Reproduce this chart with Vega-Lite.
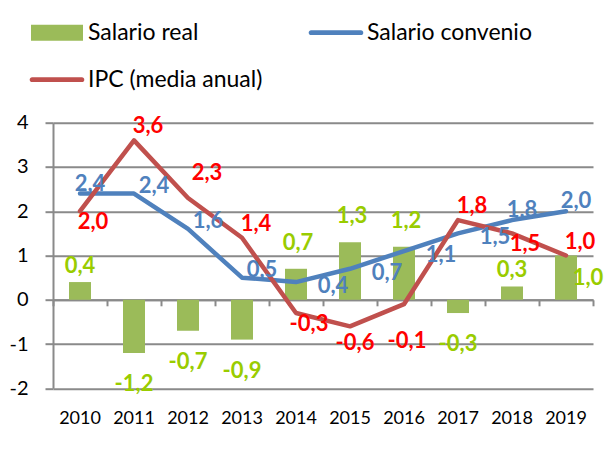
{
  "$schema": "https://vega.github.io/schema/vega-lite/v6.json",
  "width": 540,
  "height": 265.6,
  "autosize": {"type": "none"},
  "padding": {"left": 53, "top": 122.7, "right": 17, "bottom": 74.7},
  "background": "white",
  "config": {
    "view": {"stroke": null},
    "locale": {"number": {"decimal": ",", "thousands": ".", "grouping": [3], "currency": ["", " €"], "minus": "-"}},
    "text": {"font": "Lato", "fontWeight": "bold", "fontSize": 22, "baseline": "middle", "align": "center"}
  },
  "data": {
    "values": [
      {"year": "2010", "serie": "Salario real", "value": 0.4},
      {"year": "2011", "serie": "Salario real", "value": -1.2},
      {"year": "2012", "serie": "Salario real", "value": -0.7},
      {"year": "2013", "serie": "Salario real", "value": -0.9},
      {"year": "2014", "serie": "Salario real", "value": 0.7},
      {"year": "2015", "serie": "Salario real", "value": 1.3},
      {"year": "2016", "serie": "Salario real", "value": 1.2},
      {"year": "2017", "serie": "Salario real", "value": -0.3},
      {"year": "2018", "serie": "Salario real", "value": 0.3},
      {"year": "2019", "serie": "Salario real", "value": 1.0},
      {"year": "2010", "serie": "Salario convenio", "value": 2.4},
      {"year": "2011", "serie": "Salario convenio", "value": 2.4},
      {"year": "2012", "serie": "Salario convenio", "value": 1.6},
      {"year": "2013", "serie": "Salario convenio", "value": 0.5},
      {"year": "2014", "serie": "Salario convenio", "value": 0.4},
      {"year": "2015", "serie": "Salario convenio", "value": 0.7},
      {"year": "2016", "serie": "Salario convenio", "value": 1.1},
      {"year": "2017", "serie": "Salario convenio", "value": 1.5},
      {"year": "2018", "serie": "Salario convenio", "value": 1.8},
      {"year": "2019", "serie": "Salario convenio", "value": 2.0},
      {"year": "2010", "serie": "IPC (media anual)", "value": 2.0},
      {"year": "2011", "serie": "IPC (media anual)", "value": 3.6},
      {"year": "2012", "serie": "IPC (media anual)", "value": 2.3},
      {"year": "2013", "serie": "IPC (media anual)", "value": 1.4},
      {"year": "2014", "serie": "IPC (media anual)", "value": -0.3},
      {"year": "2015", "serie": "IPC (media anual)", "value": -0.6},
      {"year": "2016", "serie": "IPC (media anual)", "value": -0.1},
      {"year": "2017", "serie": "IPC (media anual)", "value": 1.8},
      {"year": "2018", "serie": "IPC (media anual)", "value": 1.5},
      {"year": "2019", "serie": "IPC (media anual)", "value": 1.0}
    ]
  },
  "resolve": {"axis": {"x": "independent"}},
  "layer": [
    {
      "transform": [{"filter": "datum.serie === 'Salario real'"}],
      "mark": {"type": "bar", "width": 22},
      "encoding": {
        "x": {"field": "year", "type": "ordinal", "scale": {"type": "band", "paddingInner": 0, "paddingOuter": 0},
          "axis": {"orient": "bottom", "offset": -88.5, "labels": false, "ticks": true, "tickBand": "extent", "tickSize": 6, "tickColor": "#8a8a8a", "tickWidth": 2, "domain": true, "domainColor": "#8a8a8a", "domainWidth": 2, "title": null, "grid": false}},
        "y": {"field": "value", "type": "quantitative", "scale": {"domain": [-2, 4], "nice": false, "zero": false},
          "axis": {"values": [-2, -1, 0, 1, 2, 3, 4], "format": "d", "grid": true, "gridColor": "#8a8a8a", "gridWidth": 2, "domain": true, "domainColor": "#8a8a8a", "domainWidth": 2, "ticks": true, "tickSize": 8, "tickColor": "#8a8a8a", "tickWidth": 2, "labelPadding": 17, "labelFontSize": 20, "labelFont": "Lato", "labelColor": "black", "title": null}},
        "color": {"field": "serie", "type": "nominal",
          "scale": {"domain": ["Salario real", "IPC (media anual)", "Salario convenio"], "range": ["#9BBB59", "#C0504D", "#4F81BD"]},
          "legend": {"orient": "none", "legendX": -22, "legendY": -116, "columns": 2, "columnPadding": 45, "rowPadding": 9, "padding": 0, "title": null,
            "labelFontSize": 23, "labelFont": "Lato", "labelColor": "black", "labelOffset": 5, "labelLimit": 400, "symbolSize": 2704,
            "encode": {"symbols": {"update": {
              "shape": {"signal": "datum.value === 'Salario real' ? 'M-1,-0.31H1V0.31H-1Z' : 'M-0.96,-0.09H0.96A0.09,0.09 0 0 1 0.96,0.09H-0.96A0.09,0.09 0 0 1 -0.96,-0.09Z'"},
              "fill": {"signal": "scale('color', datum.value)"},
              "stroke": {"value": "transparent"},
              "strokeWidth": {"value": 0},
              "size": {"value": 2704},
              "opacity": {"value": 1}
            }}}}
        }
      }
    },
    {
      "transform": [{"filter": "datum.serie === 'Salario convenio'"}],
      "mark": {"type": "line", "strokeWidth": 4.5, "strokeJoin": "round", "strokeCap": "round"},
      "encoding": {
        "x": {"field": "year", "type": "ordinal",
          "axis": {"orient": "bottom", "labels": true, "ticks": false, "tickSize": 0, "domain": false, "grid": false, "labelPadding": 21, "labelFontSize": 18, "labelFont": "Lato", "labelColor": "black", "labelAngle": 0, "title": null}},
        "y": {"field": "value", "type": "quantitative"},
        "color": {"field": "serie", "type": "nominal",
          "scale": {"domain": ["Salario real", "IPC (media anual)", "Salario convenio"], "range": ["#9BBB59", "#C0504D", "#4F81BD"]}}
      }
    },
    {
      "transform": [{"filter": "datum.serie === 'IPC (media anual)'"}],
      "mark": {"type": "line", "strokeWidth": 4.5, "strokeJoin": "round", "strokeCap": "round"},
      "encoding": {
        "x": {"field": "year", "type": "ordinal", "axis": null},
        "y": {"field": "value", "type": "quantitative"},
        "color": {"field": "serie", "type": "nominal",
          "scale": {"domain": ["Salario real", "IPC (media anual)", "Salario convenio"], "range": ["#9BBB59", "#C0504D", "#4F81BD"]}}
      }
    },
    {
      "transform": [{"filter": "datum.serie === 'Salario convenio' && indexof(['2010','2018','2019'], datum.year) >= 0"}],
      "mark": {"type": "text", "dx": 10, "dy": -10, "color": "#4F81BD"},
      "encoding": {
        "x": {"field": "year", "type": "ordinal", "axis": null},
        "y": {"field": "value", "type": "quantitative"},
        "text": {"field": "value", "type": "quantitative", "format": ".1f"}
      }
    },
    {
      "transform": [{"filter": "datum.serie === 'Salario convenio' && indexof(['2011','2012','2013'], datum.year) >= 0"}],
      "mark": {"type": "text", "dx": 20, "dy": -8, "color": "#4F81BD"},
      "encoding": {
        "x": {"field": "year", "type": "ordinal", "axis": null},
        "y": {"field": "value", "type": "quantitative"},
        "text": {"field": "value", "type": "quantitative", "format": ".1f"}
      }
    },
    {
      "transform": [{"filter": "datum.serie === 'Salario convenio' && indexof(['2014','2015','2016','2017'], datum.year) >= 0"}],
      "mark": {"type": "text", "dx": 37, "dy": 4, "color": "#4F81BD"},
      "encoding": {
        "x": {"field": "year", "type": "ordinal", "axis": null},
        "y": {"field": "value", "type": "quantitative"},
        "text": {"field": "value", "type": "quantitative", "format": ".1f"}
      }
    },
    {
      "transform": [{"filter": "datum.serie === 'IPC (media anual)' && indexof(['2011','2013','2017','2019'], datum.year) >= 0"}],
      "mark": {"type": "text", "dx": 14, "dy": -14, "color": "#FF0000"},
      "encoding": {
        "x": {"field": "year", "type": "ordinal", "axis": null},
        "y": {"field": "value", "type": "quantitative"},
        "text": {"field": "value", "type": "quantitative", "format": ".1f"}
      }
    },
    {
      "transform": [{"filter": "datum.serie === 'IPC (media anual)' && datum.year === '2012'"}],
      "mark": {"type": "text", "dx": 19, "dy": -25, "color": "#FF0000"},
      "encoding": {
        "x": {"field": "year", "type": "ordinal", "axis": null},
        "y": {"field": "value", "type": "quantitative"},
        "text": {"field": "value", "type": "quantitative", "format": ".1f"}
      }
    },
    {
      "transform": [{"filter": "datum.serie === 'IPC (media anual)' && indexof(['2010','2014','2018'], datum.year) >= 0"}],
      "mark": {"type": "text", "dx": 13, "dy": 11, "color": "#FF0000"},
      "encoding": {
        "x": {"field": "year", "type": "ordinal", "axis": null},
        "y": {"field": "value", "type": "quantitative"},
        "text": {"field": "value", "type": "quantitative", "format": ".1f"}
      }
    },
    {
      "transform": [{"filter": "datum.serie === 'IPC (media anual)' && datum.year === '2015'"}],
      "mark": {"type": "text", "dx": 5, "dy": 17, "color": "#FF0000"},
      "encoding": {
        "x": {"field": "year", "type": "ordinal", "axis": null},
        "y": {"field": "value", "type": "quantitative"},
        "text": {"field": "value", "type": "quantitative", "format": ".1f"}
      }
    },
    {
      "transform": [{"filter": "datum.serie === 'IPC (media anual)' && datum.year === '2016'"}],
      "mark": {"type": "text", "dx": 3, "dy": 37, "color": "#FF0000"},
      "encoding": {
        "x": {"field": "year", "type": "ordinal", "axis": null},
        "y": {"field": "value", "type": "quantitative"},
        "text": {"field": "value", "type": "quantitative", "format": ".1f"}
      }
    },
    {
      "transform": [{"filter": "datum.serie === 'Salario real' && indexof(['2010','2018'], datum.year) >= 0"}],
      "mark": {"type": "text", "dx": 0, "dy": -16, "color": "#99CC00"},
      "encoding": {
        "x": {"field": "year", "type": "ordinal", "axis": null},
        "y": {"field": "value", "type": "quantitative"},
        "text": {"field": "value", "type": "quantitative", "format": ".1f"}
      }
    },
    {
      "transform": [{"filter": "datum.serie === 'Salario real' && indexof(['2014','2015','2016'], datum.year) >= 0"}],
      "mark": {"type": "text", "dx": 2, "dy": -26, "color": "#99CC00"},
      "encoding": {
        "x": {"field": "year", "type": "ordinal", "axis": null},
        "y": {"field": "value", "type": "quantitative"},
        "text": {"field": "value", "type": "quantitative", "format": ".1f"}
      }
    },
    {
      "transform": [{"filter": "datum.serie === 'Salario real' && datum.year === '2019'"}],
      "mark": {"type": "text", "dx": 22, "dy": 22, "color": "#99CC00"},
      "encoding": {
        "x": {"field": "year", "type": "ordinal", "axis": null},
        "y": {"field": "value", "type": "quantitative"},
        "text": {"field": "value", "type": "quantitative", "format": ".1f"}
      }
    },
    {
      "transform": [{"filter": "datum.serie === 'Salario real' && datum.value < 0"}],
      "mark": {"type": "text", "dx": 0, "dy": 31, "color": "#99CC00"},
      "encoding": {
        "x": {"field": "year", "type": "ordinal", "axis": null},
        "y": {"field": "value", "type": "quantitative"},
        "text": {"field": "value", "type": "quantitative", "format": ".1f"}
      }
    }
  ]
}
